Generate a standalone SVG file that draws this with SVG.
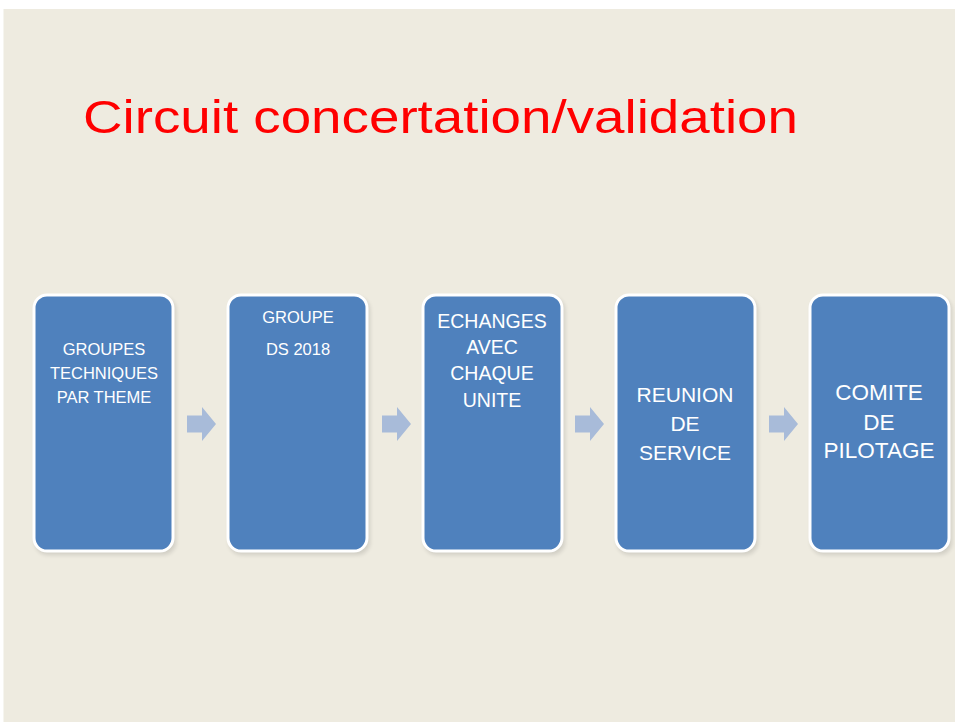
<svg xmlns="http://www.w3.org/2000/svg" width="955" height="722" viewBox="0 0 955 722">
<defs>
<style>
.box{fill:#4F81BD;stroke:#FFFFFF;stroke-width:3}
.shadow{fill:#000000;opacity:0.12}
.lbl{font-family:"Liberation Sans",Arial,sans-serif;fill:#FFFFFF;text-anchor:middle}
.arr{fill:#A8BBD9}
</style>
<filter id="blur" x="-10%" y="-10%" width="120%" height="120%"><feGaussianBlur stdDeviation="2"/></filter>
<path id="arrow" d="M0,-8.5 H15 V-17 L29,0 L15,17 V8.5 H0 Z"/>
</defs>
<rect x="0" y="0" width="955" height="722" fill="#FFFFFF"/>
<rect x="3.5" y="9" width="951.5" height="713" fill="#EEEBE0"/>
<text x="83" y="133" font-family="'Liberation Sans',Arial,sans-serif" font-size="47" fill="#FF0000" textLength="715" lengthAdjust="spacingAndGlyphs">Circuit concertation/validation</text>
<g id="connectors">
<use href="#arrow" class="arr" x="187" y="424"/>
<use href="#arrow" class="arr" x="382" y="424"/>
<use href="#arrow" class="arr" x="575" y="424"/>
<use href="#arrow" class="arr" x="769" y="424"/>
</g>
<g id="node1">
<rect class="shadow" filter="url(#blur)" x="35" y="297" width="141" height="258" rx="13"/>
<rect class="box" x="34" y="295" width="139" height="256" rx="13"/>
<text class="lbl" font-size="16.5"><tspan x="104" y="355">GROUPES</tspan><tspan x="104" y="379">TECHNIQUES</tspan><tspan x="104" y="403">PAR THEME</tspan></text>
</g>
<g id="node2">
<rect class="shadow" filter="url(#blur)" x="229" y="297" width="141" height="258" rx="13"/>
<rect class="box" x="228" y="295" width="139" height="256" rx="13"/>
<text class="lbl" font-size="16.5"><tspan x="298" y="323">GROUPE</tspan><tspan x="298" y="355">DS 2018</tspan></text>
</g>
<g id="node3">
<rect class="shadow" filter="url(#blur)" x="424" y="297" width="141" height="258" rx="13"/>
<rect class="box" x="423" y="295" width="139" height="256" rx="13"/>
<text class="lbl" font-size="19.5"><tspan x="492" y="328">ECHANGES</tspan><tspan x="492" y="354">AVEC</tspan><tspan x="492" y="380">CHAQUE</tspan><tspan x="492" y="407">UNITE</tspan></text>
</g>
<g id="node4">
<rect class="shadow" filter="url(#blur)" x="617" y="297" width="141" height="258" rx="13"/>
<rect class="box" x="616" y="295" width="139" height="256" rx="13"/>
<text class="lbl" font-size="21"><tspan x="685" y="402">REUNION</tspan><tspan x="685" y="431">DE</tspan><tspan x="685" y="460">SERVICE</tspan></text>
</g>
<g id="node5">
<rect class="shadow" filter="url(#blur)" x="811" y="297" width="141" height="258" rx="13"/>
<rect class="box" x="810" y="295" width="139" height="256" rx="13"/>
<text class="lbl" font-size="22.5"><tspan x="879" y="400">COMITE</tspan><tspan x="879" y="430">DE</tspan><tspan x="879" y="458">PILOTAGE</tspan></text>
</g>
</svg>
